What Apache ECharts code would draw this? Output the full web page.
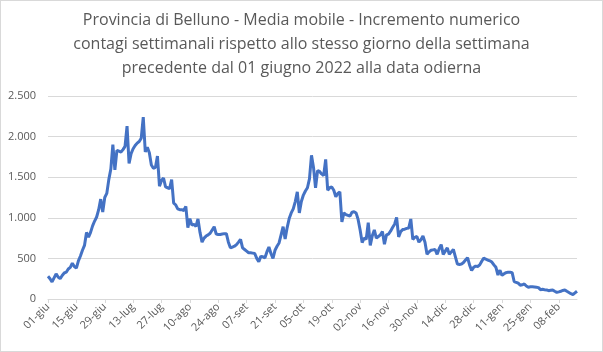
<!DOCTYPE html>
<html>
<head>
<meta charset="utf-8">
<script src="https://cdn.jsdelivr.net/npm/echarts@6/dist/echarts.min.js"></script>
<style>
  html, body { margin: 0; padding: 0; background: #fff; }
  #chart { width: 603px; height: 352px; box-sizing: border-box; border: 1px solid #d9d9d9; }
</style>
</head>
<body>
<div id="chart"></div>
<script>
// daily values from 01 June 2022 to 17 Feb 2023
const startDate = [2022, 5, 1];
const monthNames = ['gen', 'feb', 'mar', 'apr', 'mag', 'giu', 'lug', 'ago', 'set', 'ott', 'nov', 'dic'];
const values = [
  280, 250, 210, 260, 310, 270, 250, 290, 320, 330,
  370, 390, 440, 400, 380, 470, 530, 600, 660, 820,
  760, 820, 900, 960, 1010, 1100, 1230, 1070, 1250, 1300,
  1470, 1600, 1900, 1590, 1830, 1820, 1810, 1840, 1880, 2130,
  1670, 1790, 1850, 1890, 1920, 1940, 1980, 2240, 1810, 1870,
  1800, 1650, 1610, 1620, 1760, 1390, 1460, 1490, 1380, 1370,
  1360, 1470, 1180, 1160, 1110, 1100, 1100, 1090, 1140, 880,
  990, 910, 920, 895, 985, 820, 700, 750, 775, 790,
  810, 850, 890, 800, 795, 795, 800, 805, 805, 700,
  630, 640, 650, 670, 700, 735, 630, 610, 590, 570,
  570, 565, 560, 500, 460, 525, 520, 505, 580, 640,
  560, 500, 600, 650, 690, 790, 890, 740, 880, 990,
  1060, 1110, 1200, 1320, 1060, 1200, 1280, 1330, 1370, 1480,
  1770, 1620, 1370, 1580, 1570, 1540, 1520, 1720, 1340, 1370,
  1380, 1340, 1260, 1300, 1320, 950, 1060, 1040, 1030, 1020,
  1070, 1075, 1060, 980, 850, 695, 750, 735, 940, 660,
  780, 850, 750, 770, 790, 830, 675, 790, 800, 835,
  880, 920, 1005, 765, 830, 855, 860, 870, 875, 985,
  735, 760, 770, 700, 730, 775, 700, 550, 580, 600,
  605, 610, 550, 620, 670, 550, 590, 630, 550, 580,
  610, 520, 430, 425, 430, 450, 480, 510, 420, 350,
  390, 405, 400, 420, 465, 505, 490, 480, 470, 455,
  420, 390, 295, 355, 290, 310, 325, 330, 330, 325,
  215, 205, 195, 170, 175, 185, 160, 145, 150, 150,
  148, 145, 140, 115, 120, 115, 112, 102, 108, 110,
  95, 82, 88, 95, 105, 112, 95, 80, 65, 55, 75, 95
];

const categories = values.map((v, i) => {
  const d = new Date(startDate[0], startDate[1], startDate[2] + i);
  const dd = String(d.getDate()).padStart(2, '0');
  return dd + '-' + monthNames[d.getMonth()];
});

const myChart = echarts.init(document.getElementById('chart'));

const option = {
  animation: false,
  title: {
    text: 'Provincia di Belluno - Media mobile - Incremento numerico\ncontagi settimanali rispetto allo stesso giorno della settimana\nprecedente dal 01 giugno 2022 alla data odierna',
    left: 'center',
    top: 2,
    textStyle: {
      fontFamily: 'Open Sans',
      fontSize: 16,
      fontWeight: 'normal',
      color: '#595959',
      lineHeight: 24
    }
  },
  grid: { left: 47, right: 25, top: 95, bottom: 52 },
  xAxis: {
    type: 'category',
    data: categories,
    boundaryGap: false,
    axisLine: { lineStyle: { color: '#d9d9d9' } },
    axisTick: { interval: 13, length: 4, lineStyle: { color: '#d9d9d9' } },
    axisLabel: {
      interval: 13,
      rotate: 45,
      fontFamily: 'Open Sans',
      fontSize: 11,
      color: '#595959',
      margin: 6
    }
  },
  yAxis: {
    type: 'value',
    min: 0,
    max: 2500,
    interval: 500,
    axisLine: { show: false },
    axisTick: { show: false },
    splitLine: { lineStyle: { color: '#d9d9d9' } },
    axisLabel: {
      fontFamily: 'Open Sans',
      fontSize: 11,
      color: '#595959',
      margin: 12,
      formatter: v => v.toLocaleString('it-IT').replace(/\s/g, '.')
    }
  },
  series: [{
    type: 'line',
    data: values,
    showSymbol: false,
    lineStyle: { color: '#4472c4', width: 3 },
    itemStyle: { color: '#4472c4' }
  }]
};

myChart.setOption(option);
</script>
</body>
</html>
